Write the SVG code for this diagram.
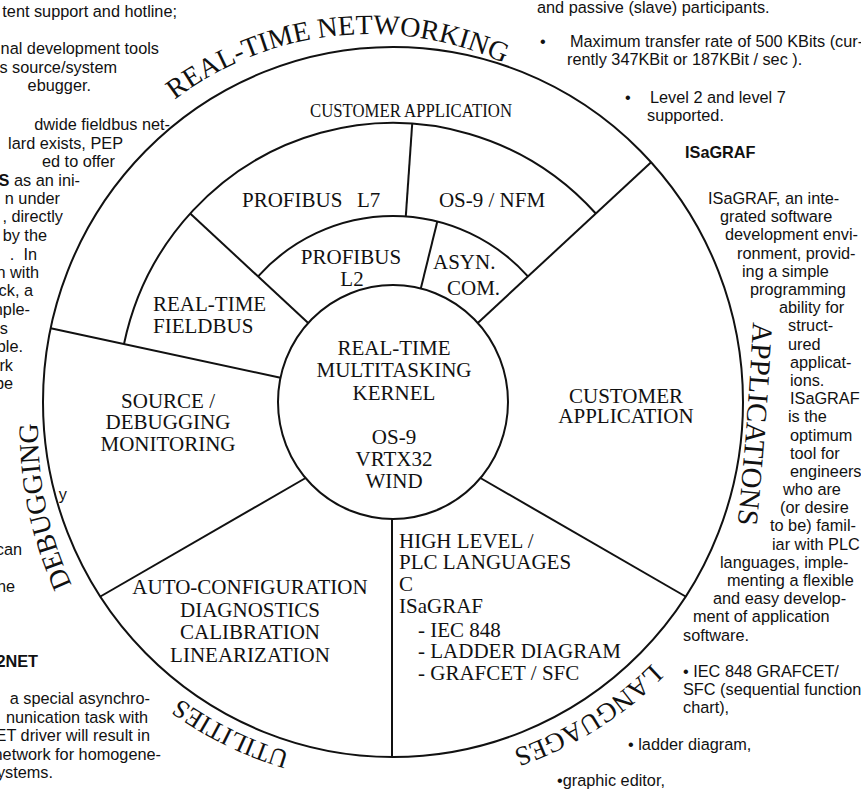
<svg xmlns="http://www.w3.org/2000/svg" width="861" height="795" viewBox="0 0 861 795">
<style>
.ln{stroke:#111;stroke-width:2;fill:none}
.lbl{font-family:"Liberation Serif","Times New Roman",serif;font-size:21px;fill:#111}
.big{font-family:"Liberation Serif","Times New Roman",serif;font-size:28px;fill:#111}
.side{font-family:"Liberation Sans",Arial,sans-serif;font-size:16.3px;fill:#111}
.e{text-anchor:end}
.m{text-anchor:middle}
.b{font-weight:bold}
</style>
<defs>
<path id="pNet" d="M 141.6 128.6 A 323 323 0 0 1 598.4 128.6"/>
<path id="pDbg" d="M 87.6 615 A 370 370 0 0 1 39.4 397.8"/>
<path id="pApp" d="M 754 300 Q 748 430 734 560"/>
<path id="pLang" d="M 674.9 638.5 A 368 368 0 0 1 456.9 764.4"/>
<path id="pUtil" d="M 329.6 761.5 A 365 365 0 0 1 134.9 660.1"/>
</defs>
<rect width="861" height="795" fill="#fff"/>

<g id="rings">
<ellipse class="ln" cx="393" cy="402" rx="350" ry="355"/>
<path class="ln" d="M 124 344 A 275 279 0 0 1 595.8 213.5"/>
<path class="ln" d="M 258.1 276.3 A 183 186 0 0 1 527.9 276.3"/>
</g>

<g id="connectors">
<line class="ln" x1="280.5" y1="377.7" x2="50.7" y2="328.2"/>
<line class="ln" x1="308.2" y1="323" x2="190.2" y2="213.5"/>
<line class="ln" x1="477.8" y1="323" x2="651.1" y2="162.2"/>
<line class="ln" x1="405.8" y1="216.4" x2="412.2" y2="123.7"/>
<line class="ln" x1="420.8" y1="288.5" x2="437.3" y2="221.5"/>
<line class="ln" x1="305.6" y1="478" x2="100.4" y2="596.5"/>
<line class="ln" x1="480.4" y1="478" x2="685.6" y2="596.5"/>
<line class="ln" x1="392" y1="519" x2="392" y2="757"/>
</g>

<g id="kernel">
<ellipse class="ln" cx="393" cy="402" rx="115" ry="117"/>
<text class="lbl m" x="394" y="355">REAL-TIME</text>
<text class="lbl m" x="394" y="377">MULTITASKING</text>
<text class="lbl m" x="394" y="400">KERNEL</text>
<text class="lbl m" x="394" y="444">OS-9</text>
<text class="lbl m" x="394" y="466">VRTX32</text>
<text class="lbl m" x="394" y="488">WIND</text>
</g>

<g id="customer-application-top"><text class="lbl" x="310" y="117" style="font-size:19px" textLength="202" lengthAdjust="spacingAndGlyphs">CUSTOMER APPLICATION</text></g>
<g id="profibus-l7"><text class="lbl" y="207"><tspan x="242">PROFIBUS</tspan><tspan x="357">L7</tspan></text></g>
<g id="os9-nfm"><text class="lbl m" x="492" y="207">OS-9 / NFM</text></g>
<g id="profibus-l2"><text class="lbl m" x="351" y="264">PROFIBUS</text><text class="lbl m" x="352" y="286">L2</text></g>
<g id="asyn-com"><text class="lbl" x="433" y="269">ASYN.</text><text class="lbl" x="447" y="295">COM.</text></g>
<g id="fieldbus"><text class="lbl" x="153" y="311">REAL-TIME</text><text class="lbl" x="153" y="333">FIELDBUS</text></g>
<g id="source-debugging"><text class="lbl m" x="168" y="408">SOURCE /</text><text class="lbl m" x="168" y="429">DEBUGGING</text><text class="lbl m" x="168" y="451">MONITORING</text></g>
<g id="customer-application-right"><text class="lbl m" x="626" y="403">CUSTOMER</text><text class="lbl m" x="626" y="423">APPLICATION</text></g>
<g id="languages-block">
<text class="lbl" x="399" y="548">HIGH LEVEL /</text>
<text class="lbl" x="399" y="569">PLC LANGUAGES</text>
<text class="lbl" x="399" y="591">C</text>
<text class="lbl" x="399" y="613">ISaGRAF</text>
<text class="lbl" x="418" y="637">- IEC 848</text>
<text class="lbl" x="418" y="658">- LADDER DIAGRAM</text>
<text class="lbl" x="418" y="680">- GRAFCET / SFC</text>
</g>
<g id="utilities-block">
<text class="lbl m" x="250" y="594">AUTO-CONFIGURATION</text>
<text class="lbl m" x="250" y="617">DIAGNOSTICS</text>
<text class="lbl m" x="250" y="639">CALIBRATION</text>
<text class="lbl m" x="250" y="662">LINEARIZATION</text>
</g>

<g id="sector-titles">
<text class="big"><textPath href="#pNet" startOffset="44">REAL-TIME NETWORKING</textPath></text>
<text class="big"><textPath href="#pDbg" startOffset="34">DEBUGGING</textPath></text>
<text class="big" style="font-size:29px"><textPath href="#pApp" startOffset="22">APPLICATIONS</textPath></text>
<text class="big" style="font-size:27px"><textPath href="#pLang" startOffset="34">LANGUAGES</textPath></text>
<text class="big" style="font-size:26px"><textPath href="#pUtil" startOffset="41">UTILITIES</textPath></text>
</g>

<g id="left-column">
<text class="side e" x="177" y="17">tent support and hotline;</text>
<text class="side e" x="159" y="54">nal development tools</text>
<text class="side e" x="117" y="72.5">s source/system</text>
<text class="side e" x="91" y="91">ebugger.</text>
<text class="side e" x="170" y="130">dwide fieldbus net-</text>
<text class="side e" x="123" y="148.5">lard exists, PEP</text>
<text class="side e" x="115" y="167">ed to offer</text>
<text class="side e" x="80" y="185.5"><tspan class="b">S</tspan> as an ini-</text>
<text class="side e" x="60" y="204">n under</text>
<text class="side e" x="63" y="222">, directly</text>
<text class="side e" x="47" y="241">by the</text>
<text class="side e" x="37" y="259.5" xml:space="preserve">.  In</text>
<text class="side e" x="39" y="278">n with</text>
<text class="side e" x="33" y="296">ck, a</text>
<text class="side e" x="30" y="315">nple-</text>
<text class="side e" x="8" y="333.5">is</text>
<text class="side e" x="23" y="352">ble.</text>
<text class="side e" x="13" y="370.5">rk</text>
<text class="side e" x="13" y="389">be</text>
<text class="side e" x="67" y="500">y</text>
<text class="side e" x="22" y="555">can</text>
<text class="side e" x="15" y="592">he</text>
<text class="side e b" x="38" y="667">2NET</text>
<text class="side e" x="150" y="704">a special asynchro-</text>
<text class="side e" x="148" y="722.5">nunication task with</text>
<text class="side e" x="150" y="741">ET driver will result in</text>
<text class="side e" x="161" y="759.5">network for homogene-</text>
<text class="side e" x="53" y="778">ystems.</text>
</g>

<g id="right-column">
<text class="side" x="537" y="13">and passive (slave) participants.</text>
<text class="side" x="540" y="47">•</text>
<text class="side" x="570" y="47">Maximum transfer rate of 500 KBits (cur-</text>
<text class="side" x="567" y="65">rently 347KBit or 187KBit / sec ).</text>
<text class="side" x="625" y="103">•</text>
<text class="side" x="650" y="103">Level 2 and level 7</text>
<text class="side" x="647" y="121">supported.</text>
<text class="side b" x="685" y="158">ISaGRAF</text>
<text class="side" x="708" y="204">ISaGRAF, an inte-</text>
<text class="side" x="720" y="222">grated software</text>
<text class="side" x="725" y="240">development envi-</text>
<text class="side" x="737" y="259">ronment, provid-</text>
<text class="side" x="742" y="277">ing a simple</text>
<text class="side" x="750" y="295">programming</text>
<text class="side" x="779" y="313">ability for</text>
<text class="side" x="788" y="331">struct-</text>
<text class="side" x="788" y="350">ured</text>
<text class="side" x="790" y="368">applicat-</text>
<text class="side" x="790" y="386">ions.</text>
<text class="side" x="790" y="404">ISaGRAF</text>
<text class="side" x="788" y="422">is the</text>
<text class="side" x="790" y="441">optimum</text>
<text class="side" x="790" y="459">tool for</text>
<text class="side" x="790" y="477">engineers</text>
<text class="side" x="783" y="495">who are</text>
<text class="side" x="780" y="513">(or desire</text>
<text class="side" x="770" y="531">to be) famil-</text>
<text class="side" x="772" y="550">iar with PLC</text>
<text class="side" x="720" y="568">languages, imple-</text>
<text class="side" x="727" y="586">menting a flexible</text>
<text class="side" x="713" y="604">and easy develop-</text>
<text class="side" x="693" y="622">ment of application</text>
<text class="side" x="683" y="641">software.</text>
<text class="side" x="683" y="677">• IEC 848 GRAFCET/</text>
<text class="side" x="683" y="695">SFC (sequential function</text>
<text class="side" x="683" y="713">chart),</text>
<text class="side" x="628" y="750">• ladder diagram,</text>
<text class="side" x="557" y="786">•graphic editor,</text>
</g>
</svg>
